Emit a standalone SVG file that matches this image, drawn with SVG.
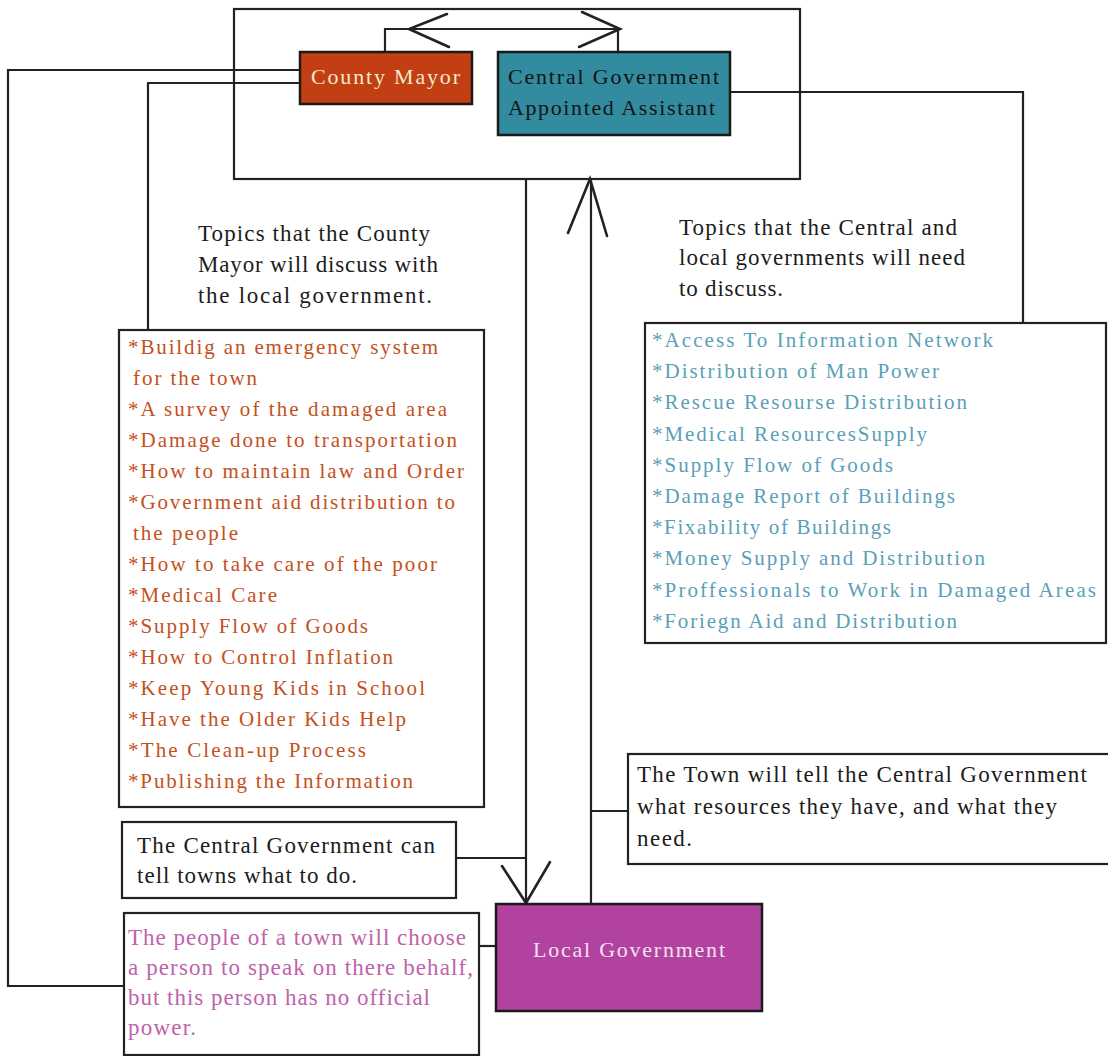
<svg xmlns="http://www.w3.org/2000/svg" width="1108" height="1056" viewBox="0 0 1108 1056">
  <style>
    .box { fill: #ffffff; stroke: #222222; stroke-width: 2.2; }
    .line { fill: none; stroke: #222222; stroke-width: 2.2; }
    .head { stroke-width: 2.6; stroke-linecap: round; stroke-linejoin: miter; }
    text { font-family: "Liberation Serif", "Times New Roman", serif; }
    .note { font-size: 23px; fill: #1c1c1c; }
    .orange { font-size: 21px; fill: #c4501c; }
    .blue { font-size: 21px; fill: #5a9fb8; }
    .pink { font-size: 23px; fill: #c062aa; }
    .label { font-size: 22px; }
  </style>
  <rect x="0" y="0" width="1108" height="1056" fill="#ffffff"/>

  <!-- connectors -->
  <g id="connectors">
    <!-- mayor <-> assistant -->
    <polyline class="line" points="385,52 385,29 618,29 618,52"/>
    <polyline class="line head" points="447,14 409,29 449,47"/>
    <polyline class="line head" points="582,12 620,29 579,47"/>
    <!-- mayor to representative note -->
    <polyline class="line" points="300,70 8,70 8,986 124,986"/>
    <!-- mayor to mayor topics -->
    <polyline class="line" points="300,83 148,83 148,330"/>
    <!-- assistant to central topics -->
    <polyline class="line" points="730,92 1023,92 1023,323"/>
    <!-- frame down to local government -->
    <line class="line" x1="526" y1="179" x2="526" y2="903"/>
    <polyline class="line head" points="502,866 526,903 550,862"/>
    <!-- local government up to frame -->
    <line class="line" x1="591" y1="179" x2="591" y2="904"/>
    <polyline class="line head" points="568,233 590,179 607,236"/>
    <!-- notes attached to the two vertical lines -->
    <line class="line" x1="456" y1="858" x2="526" y2="858"/>
    <line class="line" x1="591" y1="811" x2="628" y2="811"/>
    <line class="line" x1="479" y1="946" x2="496" y2="946"/>
  </g>

  <!-- frame around the two county-level leaders -->
  <g id="leadership-frame">
    <rect x="234" y="9" width="566" height="170" fill="none" stroke="#222222" stroke-width="2.2"/>
  </g>

  <g id="county-mayor">
    <rect x="300" y="52" width="172" height="52" fill="#c23f14" stroke="#1a1a1a" stroke-width="2.5"/>
    <text class="label" x="311" y="84" fill="#f6e8cc" textLength="149" lengthAdjust="spacing">County Mayor</text>
  </g>

  <g id="central-assistant">
    <rect x="498" y="52" width="232" height="83" fill="#328b9f" stroke="#1a1a1a" stroke-width="2.5"/>
    <text class="label" x="508" y="84" fill="#141414" textLength="211" lengthAdjust="spacing">Central Government</text>
    <text class="label" x="508" y="115" fill="#141414" textLength="207" lengthAdjust="spacing">Appointed Assistant</text>
  </g>

  <g id="mayor-topics-heading">
    <text class="note" x="198" y="241" textLength="232" lengthAdjust="spacing">Topics that the County</text>
    <text class="note" x="198" y="272" textLength="240" lengthAdjust="spacing">Mayor will discuss with</text>
    <text class="note" x="198" y="303" textLength="234" lengthAdjust="spacing">the local government.</text>
  </g>

  <g id="mayor-topics">
    <rect class="box" x="119" y="330" width="365" height="477"/>
    <text class="orange" x="128" y="354" textLength="310" lengthAdjust="spacing">*Buildig an emergency system</text>
    <text class="orange" x="133" y="385" textLength="124" lengthAdjust="spacing">for the town</text>
    <text class="orange" x="128" y="416" textLength="319" lengthAdjust="spacing">*A survey of the damaged area</text>
    <text class="orange" x="128" y="447" textLength="329" lengthAdjust="spacing">*Damage done to transportation</text>
    <text class="orange" x="128" y="478" textLength="336" lengthAdjust="spacing">*How to maintain law and Order</text>
    <text class="orange" x="128" y="509" textLength="327" lengthAdjust="spacing">*Government aid distribution to</text>
    <text class="orange" x="133" y="540" textLength="105" lengthAdjust="spacing">the people</text>
    <text class="orange" x="128" y="571" textLength="309" lengthAdjust="spacing">*How to take care of the poor</text>
    <text class="orange" x="128" y="602" textLength="149" lengthAdjust="spacing">*Medical Care</text>
    <text class="orange" x="128" y="633" textLength="240" lengthAdjust="spacing">*Supply Flow of Goods</text>
    <text class="orange" x="128" y="664" textLength="265" lengthAdjust="spacing">*How to Control Inflation</text>
    <text class="orange" x="128" y="695" textLength="297" lengthAdjust="spacing">*Keep Young Kids in School</text>
    <text class="orange" x="128" y="726" textLength="278" lengthAdjust="spacing">*Have the Older Kids Help</text>
    <text class="orange" x="128" y="757" textLength="238" lengthAdjust="spacing">*The Clean-up Process</text>
    <text class="orange" x="128" y="788" textLength="285" lengthAdjust="spacing">*Publishing the Information</text>
  </g>

  <g id="central-topics-heading">
    <text class="note" x="679" y="235" textLength="278" lengthAdjust="spacing">Topics that the Central and</text>
    <text class="note" x="679" y="265" textLength="286" lengthAdjust="spacing">local governments will need</text>
    <text class="note" x="679" y="296" textLength="104" lengthAdjust="spacing">to discuss.</text>
  </g>

  <g id="central-topics">
    <rect class="box" x="645" y="323" width="461" height="320"/>
    <text class="blue" x="652" y="347" textLength="341" lengthAdjust="spacing">*Access To Information Network</text>
    <text class="blue" x="652" y="378" textLength="287" lengthAdjust="spacing">*Distribution of Man Power</text>
    <text class="blue" x="652" y="409" textLength="315" lengthAdjust="spacing">*Rescue Resourse Distribution</text>
    <text class="blue" x="652" y="441" textLength="275" lengthAdjust="spacing">*Medical ResourcesSupply</text>
    <text class="blue" x="652" y="472" textLength="241" lengthAdjust="spacing">*Supply Flow of Goods</text>
    <text class="blue" x="652" y="503" textLength="303" lengthAdjust="spacing">*Damage Report of Buildings</text>
    <text class="blue" x="652" y="534" textLength="239" lengthAdjust="spacing">*Fixability of Buildings</text>
    <text class="blue" x="652" y="565" textLength="333" lengthAdjust="spacing">*Money Supply and Distribution</text>
    <text class="blue" x="652" y="597" textLength="444" lengthAdjust="spacing">*Proffessionals to Work in Damaged Areas</text>
    <text class="blue" x="652" y="628" textLength="305" lengthAdjust="spacing">*Foriegn Aid and Distribution</text>
  </g>

  <g id="town-reports-note">
    <rect class="box" x="628" y="754" width="482" height="110"/>
    <text class="note" x="637" y="782" textLength="450" lengthAdjust="spacing">The Town will tell the Central Government</text>
    <text class="note" x="637" y="814" textLength="420" lengthAdjust="spacing">what resources they have, and what they</text>
    <text class="note" x="637" y="846" textLength="55" lengthAdjust="spacing">need.</text>
  </g>

  <g id="central-directs-note">
    <rect class="box" x="122" y="822" width="334" height="76"/>
    <text class="note" x="137" y="853" textLength="298" lengthAdjust="spacing">The Central Government can</text>
    <text class="note" x="137" y="883" textLength="220" lengthAdjust="spacing">tell towns what to do.</text>
  </g>

  <g id="representative-note">
    <rect class="box" x="124" y="913" width="355" height="142"/>
    <text class="pink" x="128" y="945" textLength="338" lengthAdjust="spacing">The people of a town will choose</text>
    <text class="pink" x="128" y="975" textLength="345" lengthAdjust="spacing">a person to speak on there behalf,</text>
    <text class="pink" x="128" y="1005" textLength="302" lengthAdjust="spacing">but this person has no official</text>
    <text class="pink" x="128" y="1035" textLength="68" lengthAdjust="spacing">power.</text>
  </g>

  <g id="local-government">
    <rect x="496" y="904" width="266" height="107" fill="#b2429f" stroke="#1a1a1a" stroke-width="2.5"/>
    <text class="label" x="533" y="957" fill="#f3e2f0" textLength="192" lengthAdjust="spacing">Local Government</text>
  </g>
</svg>
